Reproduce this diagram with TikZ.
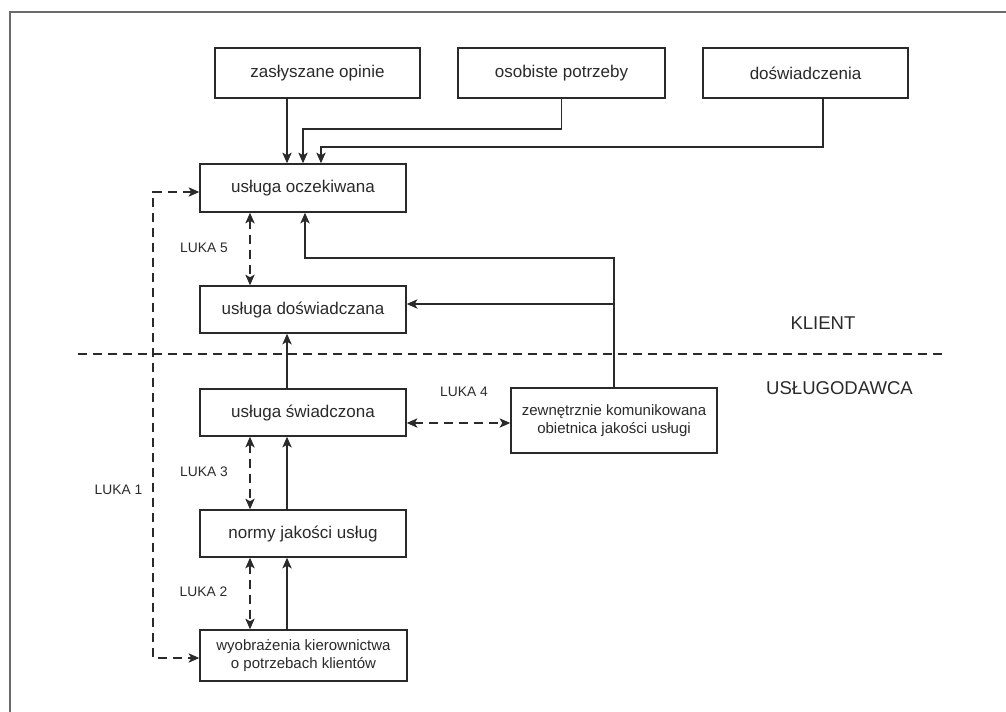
\documentclass[tikz,border=0pt]{standalone}
\usepackage{fontspec}
\setmainfont{Liberation Sans}
\usetikzlibrary{arrows.meta,calc}
\definecolor{ink}{HTML}{2A2A2A}
\definecolor{framegray}{HTML}{6A6A6A}

\begin{document}
\begin{tikzpicture}[x=0.75pt,y=-0.75pt,
  box/.style={draw=ink, line width=1.1pt, fill=white, minimum width=154.5pt,
    minimum height=36pt, inner sep=0pt, text=ink, align=center,
    font=\fontsize{12.75}{15}\selectfont},
  twoline/.style={box, font=\fontsize{11.25}{13.8}\selectfont},
  lbl/.style={text=ink, inner sep=0pt, font=\fontsize{10.35}{12}\selectfont},
  side/.style={text=ink, inner sep=0pt, font=\fontsize{13.9}{16}\selectfont},
  tip/.tip={Stealth[length=8pt,width=7pt,inset=2pt]},
  conn/.style={draw=ink, line width=0.9pt},
  arr/.style={conn, -tip},
  gap/.style={conn, dash pattern=on 6.75pt off 4.5pt, tip-tip},
  divider/.style={draw=ink, line width=0.9pt, dash pattern=on 6.75pt off 4.5pt}
]
\useasboundingbox (0,0) rectangle (1006,711);

% outer frame (open to the right and bottom)
\draw[framegray, line width=1.2pt] (10,730) -- (10,12) -- (1030,12);

% sources of expectations
\node[box, minimum width=153.75pt, minimum height=37.5pt] (zas)  at (317.5,73) {zasłyszane opinie};
\node[box, minimum width=155.25pt, minimum height=37.5pt] (osob) at (561.5,73) {osobiste potrzeby};
\node[box, minimum width=153.75pt, minimum height=37.5pt] (dosw) at (805.5,73) {doświadczenia};

% client side
\node[box] (ocz)     at (303,188)   {usługa oczekiwana};
\node[box, minimum height=35.25pt] (doswiad) at (303,309.5) {usługa doświadczana};

% provider side
\node[box, minimum height=35.25pt] (swiad) at (303,412.5) {usługa świadczona};
\node[box, minimum height=35.25pt] (normy) at (303,533.5) {normy jakości usług};
\node[twoline, minimum width=155.25pt, minimum height=38.25pt] (wyob) at (303.5,655.5)
  {wyobrażenia kierownictwa\\o potrzebach klientów};
\node[twoline, minimum height=48.75pt] (zewn) at (614,420.5)
  {zewnętrznie komunikowana\\obietnica jakości usługi};

% helper coordinates for routing
\coordinate (xa)  at (287,0);
\coordinate (kb)  at (303,129);
\coordinate (kc)  at (321,147);
\coordinate (xd)  at (823,0);
\coordinate (xg)  at (250,0);
\coordinate (xl)  at (153,0);
\coordinate (kz)  at (305,258);
\coordinate (yd)  at (0,304);
\coordinate (y4)  at (0,423);
\coordinate (y1a) at (0,192);
\coordinate (y1b) at (0,658);
\coordinate (s1)  at (78,354);
\coordinate (s2)  at (945,354);

% client / provider divider
\draw[divider] (s1) -- (s2);

% inputs to the expected service
\draw[arr] (zas.south -| xa) -- (ocz.north -| xa);
\draw[arr] (osob.south) |- (kb) -- (kb |- ocz.north);
\draw[arr] (dosw.south -| xd) |- (kc) -- (kc |- ocz.north);

% external communication
\draw[arr] (zewn.north) |- (kz) -- (kz |- ocz.south);
\draw[arr] (zewn.north |- yd) -- (doswiad.east |- yd);

% service chain
\draw[arr] (wyob.north -| xa)  -- (normy.south -| xa);
\draw[arr] (normy.north -| xa) -- (swiad.south -| xa);
\draw[arr] (swiad.north -| xa) -- (doswiad.south -| xa);

% gaps
\draw[gap] (ocz.south -| xg)   -- (doswiad.north -| xg);
\draw[gap] (swiad.south -| xg) -- (normy.north -| xg);
\draw[gap] (normy.south -| xg) -- (wyob.north -| xg);
\draw[gap] (swiad.east |- y4)  -- (zewn.west |- y4);
\draw[gap] (ocz.west |- y1a) -- (xl |- y1a) -- (xl |- y1b) -- (wyob.west |- y1b);

% gap labels
\node[lbl] (l5) at (204,248)   {LUKA 5};
\node[lbl] (l4) at (464,392)   {LUKA 4};
\node[lbl] (l3) at (204,472)   {LUKA 3};
\node[lbl] (l1) at (118.5,490) {LUKA 1};
\node[lbl] (l2) at (203.5,592) {LUKA 2};

% side labels
\node[side] (klient) at (823,323)   {KLIENT};
\node[side] (uslug)  at (839.5,388) {USŁUGODAWCA};
\end{tikzpicture}
\end{document}
